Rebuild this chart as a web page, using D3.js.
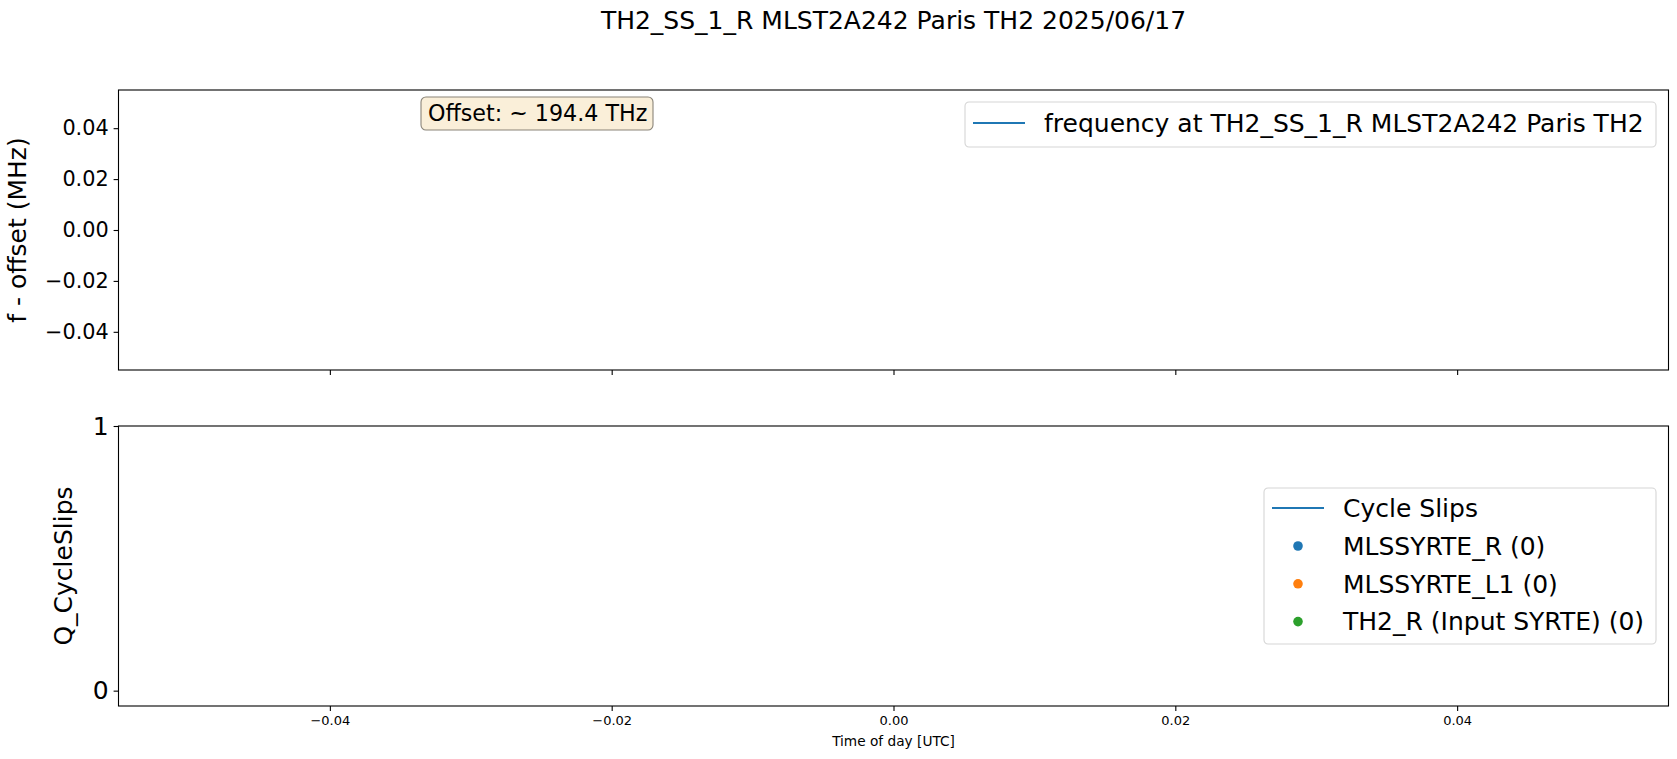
<!DOCTYPE html>
<meta charset="utf-8" />
<style>
  body { margin: 0; background: #fff; }
  text { font-family: "DejaVu Sans", sans-serif; fill: #000; }
  .tick line { stroke: #000; stroke-width: 1.1px; }
  .domain { display: none; }
</style>
<body>
<script src="https://d3js.org/d3.v7.min.js"></script>
<script>
  // chart texts and values (the source plot has no samples for this day)
  var title = "TH2_SS_1_R MLST2A242 Paris TH2 2025/06/17";
  var offsetLabel = "Offset: ~ 194.4 THz";
  var freqTimes = [];
  var freqValues = [];
  var slipSeries = ["MLSSYRTE_R (0)", "MLSSYRTE_L1 (0)", "TH2_R (Input SYRTE) (0)"];
  var slipColors = ["#1f77b4", "#ff7f0e", "#2ca02c"];
  var slipPoints = [[], [], []];
  var xDomain = [-0.055, 0.055];
  var xTicks = [-0.04, -0.02, 0, 0.02, 0.04];
  var freqDomain = [-0.055, 0.055];
  var freqTicks = [-0.04, -0.02, 0, 0.02, 0.04];
  var slipDomain = [-0.058, 1];
  var slipTicks = [0, 1];

  var W = 1677, H = 759;
  var left = 118.5, right = 1668.5;
  var top1 = 90, bot1 = 370, top2 = 426, bot2 = 706;

  var fmt = function (d) { return d3.format(".2f")(d).replace("-", "\u2212"); };

  var svg = d3.select("body").append("svg")
    .attr("width", W).attr("height", H);

  var x = d3.scaleLinear().domain(xDomain).range([left, right]);
  var yF = d3.scaleLinear().domain(freqDomain).range([bot1, top1]);
  var yS = d3.scaleLinear().domain(slipDomain).range([bot2, top2]);

  // title
  svg.append("text")
    .attr("x", (left + right) / 2).attr("y", 20).attr("dy", "0.35em")
    .attr("text-anchor", "middle").style("font-size", "25px")
    .text(title);

  // ---- top panel ----
  var g1 = svg.append("g");
  g1.append("path")
    .datum(freqTimes.map(function (t, i) { return [t, freqValues[i]]; }))
    .attr("fill", "none").attr("stroke", "#1f77b4").attr("stroke-width", 2)
    .attr("d", d3.line().x(function (d) { return x(d[0]); }).y(function (d) { return yF(d[1]); }));

  g1.append("g").attr("transform", "translate(0," + bot1 + ")")
    .call(d3.axisBottom(x).tickValues(xTicks).tickFormat("").tickSizeInner(4.9).tickSizeOuter(0));
  g1.append("g").attr("transform", "translate(" + left + ",0)")
    .call(d3.axisLeft(yF).tickValues(freqTicks).tickFormat(fmt).tickSizeInner(4.9).tickSizeOuter(0).tickPadding(4.9))
    .selectAll("text").style("font-size", "20.8px").attr("font-family", null);
  g1.append("rect")
    .attr("x", left).attr("y", top1).attr("width", right - left).attr("height", bot1 - top1)
    .attr("fill", "none").attr("stroke", "#000").attr("stroke-width", 1.1);

  svg.append("text")
    .attr("transform", "translate(17," + (top1 + bot1) / 2 + ") rotate(-90)")
    .attr("text-anchor", "middle").attr("dy", "0.35em").style("font-size", "25px")
    .text("f - offset (MHz)");

  // offset box
  var ob = svg.append("g").attr("transform", "translate(421,97)");
  ob.append("rect").attr("width", 232).attr("height", 33).attr("rx", 5)
    .attr("fill", "#faefd9").attr("stroke", "#8a8478").attr("stroke-width", 1.1);
  ob.append("text").attr("x", 7).attr("y", 16.5).attr("dy", "0.35em")
    .style("font-size", "22.2px").text(offsetLabel);

  // top legend
  var l1 = svg.append("g").attr("transform", "translate(965,102)");
  l1.append("rect").attr("width", 691).attr("height", 45).attr("rx", 4)
    .attr("fill", "#fff").attr("fill-opacity", 0.8).attr("stroke", "#d6d6d6").attr("stroke-width", 1.1);
  l1.append("line").attr("x1", 8).attr("x2", 60).attr("y1", 21).attr("y2", 21)
    .attr("stroke", "#1f77b4").attr("stroke-width", 2);
  l1.append("text").attr("x", 79).attr("y", 21).attr("dy", "0.35em")
    .style("font-size", "25px").text("frequency at TH2_SS_1_R MLST2A242 Paris TH2");

  // ---- bottom panel ----
  var g2 = svg.append("g");
  slipPoints.forEach(function (pts, i) {
    g2.selectAll(".s" + i).data(pts).enter().append("circle")
      .attr("cx", function (d) { return x(d[0]); })
      .attr("cy", function (d) { return yS(d[1]); })
      .attr("r", 4.2).attr("fill", slipColors[i]);
  });

  g2.append("g").attr("transform", "translate(0," + bot2 + ")")
    .call(d3.axisBottom(x).tickValues(xTicks).tickFormat(fmt).tickSizeInner(4.9).tickSizeOuter(0).tickPadding(4.9))
    .selectAll("text").style("font-size", "13px").attr("font-family", null);
  g2.append("g").attr("transform", "translate(" + left + ",0)")
    .call(d3.axisLeft(yS).tickValues(slipTicks).tickFormat(d3.format("d")).tickSizeInner(4.9).tickSizeOuter(0).tickPadding(4.9))
    .selectAll("text").style("font-size", "25px").attr("font-family", null);
  g2.append("rect")
    .attr("x", left).attr("y", top2).attr("width", right - left).attr("height", bot2 - top2)
    .attr("fill", "none").attr("stroke", "#000").attr("stroke-width", 1.1);

  svg.append("text")
    .attr("transform", "translate(63," + (top2 + bot2) / 2 + ") rotate(-90)")
    .attr("text-anchor", "middle").attr("dy", "0.35em").style("font-size", "25px")
    .text("Q_CycleSlips");

  svg.append("text")
    .attr("x", (left + right) / 2).attr("y", 741).attr("dy", "0.35em")
    .attr("text-anchor", "middle").style("font-size", "13.7px")
    .text("Time of day [UTC]");

  // bottom legend
  var l2 = svg.append("g").attr("transform", "translate(1264,488)");
  l2.append("rect").attr("width", 392).attr("height", 156).attr("rx", 4)
    .attr("fill", "#fff").attr("fill-opacity", 0.8).attr("stroke", "#d6d6d6").attr("stroke-width", 1.1);
  l2.append("line").attr("x1", 8).attr("x2", 60).attr("y1", 20).attr("y2", 20)
    .attr("stroke", "#1f77b4").attr("stroke-width", 2);
  l2.append("text").attr("x", 79).attr("y", 20).attr("dy", "0.35em")
    .style("font-size", "25px").text("Cycle Slips");
  l2.selectAll(".entry").data(slipSeries).enter().append("g")
    .attr("transform", function (d, i) { return "translate(0," + (58 + i * 37.8) + ")"; })
    .each(function (d, i) {
      var e = d3.select(this);
      e.append("circle").attr("cx", 34).attr("cy", 0).attr("r", 4.8).attr("fill", slipColors[i]);
      e.append("text").attr("x", 79).attr("dy", "0.35em").style("font-size", "25px").text(d);
    });
</script>
</body>
